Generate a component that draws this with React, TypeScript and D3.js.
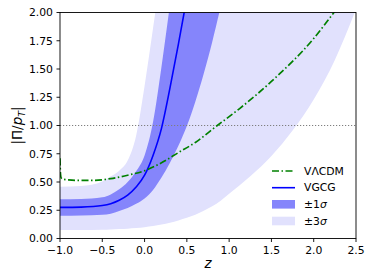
import React from 'react';
import * as d3 from 'd3';

const zGrid = [-1, -0.75, -0.5, -0.4, -0.3, -0.2, -0.1, 0, 0.1, 0.2, 0.3, 0.4, 0.5, 0.6, 0.7, 0.8, 0.9, 1.0, 1.25, 1.5, 1.75, 2.0, 2.25, 2.5];
const vgcgCenter = [0.275, 0.278, 0.292, 0.308, 0.338, 0.383, 0.455, 0.56, 0.735, 0.975, 1.33, 1.72, 2.13, 2.55, 3.0, 3.5, 4.0, 4.5, 5.8, 7.1, 8.4, 9.7, 11.0, 12.3];
const sigma1Upper = [0.347, 0.35, 0.365, 0.39, 0.435, 0.50, 0.595, 0.735, 1.03, 1.52, 2.07, 2.63, 3.2, 3.8, 4.4, 5.0, 5.6, 6.2, 7.7, 9.2, 10.7, 12.2, 13.7, 15.2];
const sigma1Lower = [0.202, 0.204, 0.21, 0.22, 0.243, 0.27, 0.307, 0.355, 0.43, 0.54, 0.67, 0.82, 0.995, 1.21, 1.46, 1.74, 2.05, 2.35, 3.1, 3.9, 4.7, 5.5, 6.3, 7.1];
const sigma3Upper = [0.458, 0.465, 0.505, 0.55, 0.60, 0.69, 0.91, 1.35, 1.86, 2.4, 3.0, 3.6, 4.2, 4.8, 5.4, 6.0, 6.6, 7.2, 8.7, 10.2, 11.7, 13.2, 14.7, 16.2];
const sigma3Lower = [0.075, 0.076, 0.078, 0.08, 0.083, 0.087, 0.093, 0.10, 0.11, 0.123, 0.14, 0.16, 0.183, 0.21, 0.245, 0.285, 0.335, 0.395, 0.55, 0.73, 0.955, 1.23, 1.58, 2.03];

const lcdmZ = [-1, -0.995, -0.985, -0.96, -0.9, -0.8, -0.6, -0.4, -0.2, 0, 0.2, 0.4, 0.6, 0.86, 1.124, 1.5, 2.0, 2.25, 2.5];
const lcdmV = [0.71, 0.58, 0.535, 0.524, 0.519, 0.515, 0.515, 0.53, 0.56, 0.60, 0.67, 0.76, 0.85, 1.0, 1.15, 1.39, 1.77, 2.01, 2.25];

const xTicks = [-1.0, -0.5, 0.0, 0.5, 1.0, 1.5, 2.0, 2.5];
const yTicks = [0.0, 0.25, 0.5, 0.75, 1.0, 1.25, 1.5, 1.75, 2.0];
const legendLabels = ['V\u039BCDM', 'VGCG', '\u00B11', '\u00B13'];

const FONT = 'DejaVu Sans, sans-serif';

export default function App() {
  const W = 374, H = 280;
  const L = 60, R = 356, T = 12.5, B = 238.5;
  const x = d3.scaleLinear().domain([-1, 2.5]).range([L, R]);
  const y = d3.scaleLinear().domain([0, 2]).range([B, T]);

  const band = (lo: number[], hi: number[]) =>
    d3.area<number>()
      .x((_, i) => x(zGrid[i]))
      .y0((_, i) => y(lo[i]))
      .y1((_, i) => y(hi[i]))
      .curve(d3.curveMonotoneX)(zGrid) || '';

  const centerPath = d3.line<number>()
    .x((_, i) => x(zGrid[i]))
    .y((d) => y(d))
    .curve(d3.curveMonotoneX)(vgcgCenter) || '';

  const lcdmPath = d3.line<number>()
    .x((_, i) => x(lcdmZ[i]))
    .y((d) => y(d))
    .curve(d3.curveMonotoneX)(lcdmV) || '';

  const fmtX = (v: number) => d3.format('.1f')(v).replace('-', '\u2212');
  const fmtY = (v: number) => d3.format('.2f')(v);

  const light = '#e1e1fd';
  const dark = '#8585fb';
  const green = '#008000';
  const dashdot = '7,2.5,1.5,2.5';

  const legX = 272, legW = 23, legTextX = 304;
  const legY = [171, 187.7, 204.3, 221];

  return (
    <svg width={W} height={H} style={{ position: 'absolute', left: 0, top: 0, background: '#fff' }} fontFamily={FONT}>
      <defs>
        <clipPath id="plotClip">
          <rect x={L} y={T} width={R - L} height={B - T} />
        </clipPath>
      </defs>
      <rect x={0} y={0} width={W} height={H} fill="#fff" />
      <g clipPath="url(#plotClip)">
        <path d={band(sigma3Lower, sigma3Upper)} fill={light} stroke="none" />
        <path d={band(sigma1Lower, sigma1Upper)} fill={dark} stroke="none" />
        <line x1={L} x2={R} y1={y(1)} y2={y(1)} stroke="#7f7f7f" strokeWidth={1} strokeDasharray="1.2,1.8" />
        <path d={centerPath} fill="none" stroke="#0000ff" strokeWidth={1.6} />
        <path d={lcdmPath} fill="none" stroke={green} strokeWidth={1.7} strokeDasharray={dashdot} />
      </g>

      {/* Legend */}
      <line x1={legX} x2={legX + legW} y1={legY[0]} y2={legY[0]} stroke={green} strokeWidth={1.7} strokeDasharray={dashdot} />
      <line x1={legX} x2={legX + legW} y1={legY[1]} y2={legY[1]} stroke="#0000ff" strokeWidth={1.6} />
      <rect x={legX} y={legY[2] - 4.3} width={legW} height={8.6} fill={dark} />
      <rect x={legX} y={legY[3] - 4.3} width={legW} height={8.6} fill={light} />
      {legendLabels.map((lab, i) => (
        <text key={lab} x={legTextX} y={legY[i]} dy="0.35em" fontSize={10.8} fill="#000">
          {lab}
          {i >= 2 ? <tspan fontStyle="italic">{'\u03C3'}</tspan> : null}
        </text>
      ))}

      {/* Axes frame */}
      <rect x={L} y={T} width={R - L} height={B - T} fill="none" stroke="#000" strokeWidth={0.9} />

      {/* X ticks */}
      {xTicks.map((t) => (
        <g key={'x' + t}>
          <line x1={x(t)} x2={x(t)} y1={B} y2={B + 3.5} stroke="#000" strokeWidth={0.9} />
          <text x={x(t)} y={B + 7} dy="0.76em" textAnchor="middle" fontSize={10.8} fill="#000">{fmtX(t)}</text>
        </g>
      ))}
      {/* Y ticks */}
      {yTicks.map((t) => (
        <g key={'y' + t}>
          <line x1={L - 3.5} x2={L} y1={y(t)} y2={y(t)} stroke="#000" strokeWidth={0.9} />
          <text x={L - 7} y={y(t)} dy="0.36em" textAnchor="end" fontSize={10.8} fill="#000">{fmtY(t)}</text>
        </g>
      ))}

      {/* Axis labels */}
      <text x={(L + R) / 2} y={268} textAnchor="middle" fontSize={13.5} fontStyle="italic" fill="#000">z</text>
      <g transform={`translate(21.5, ${(T + B) / 2}) rotate(-90)`}>
        <text x={0} y={0} textAnchor="middle" fontSize={13.5} fill="#000">
          |Π/<tspan fontStyle="italic">p</tspan><tspan fontStyle="italic" fontSize={9.5} dy="3">T</tspan><tspan dy="-3">|</tspan>
        </text>
      </g>
    </svg>
  );
}
